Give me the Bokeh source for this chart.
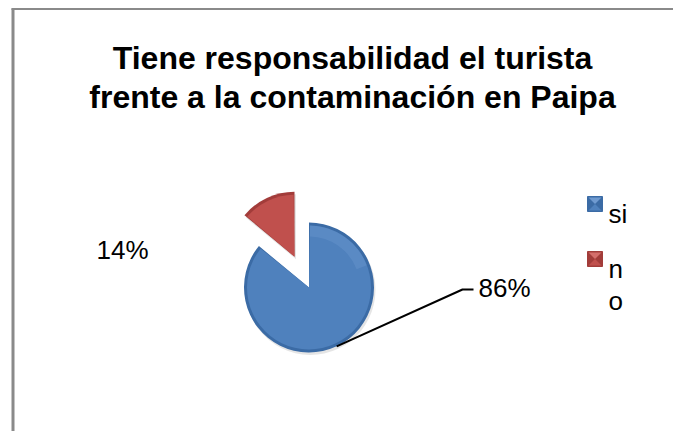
import math
from bokeh.plotting import figure
from bokeh.models import Range1d
from bokeh.core.properties import value
from bokeh.embed import file_html
from bokeh.resources import INLINE

# ---- data ----
title_lines = ["Tiene responsabilidad el turista", "frente a la contaminación en Paipa"]
categories = ["si", "no"]
percent = [86, 14]
labels = ["86%", "14%"]
colors = ["#4F81BD", "#C0504D"]
dark_colors = ["#3B6BA5", "#A23C3A"]
light_colors = ["#6F9AD0", "#D46E6B"]

FONT = "Liberation Sans"
D = math.radians

# screen-like coordinates: x = px, y = -px
p = figure(width=673, height=431, output_backend="svg", toolbar_location=None,
           x_range=Range1d(0, 673), y_range=Range1d(-431, 0),
           x_axis_location=None, y_axis_location=None, min_border=0,
           background_fill_color="white", border_fill_color="white")
p.grid.visible = False
p.outline_line_color = None

# chart border (left and top only visible)
p.line([12.5, 12.5], [-8, -431], line_color="#8A8A8A", line_width=3)
p.line([11, 673], [-8.5, -8.5], line_color="#8A8A8A", line_width=2)

# title
p.text(x=[352, 352], y=[-57, -96], text=title_lines, text_align="center",
       text_baseline="alphabetic", text_font=value(FONT), text_font_size="32px",
       text_font_style="bold", text_color="black")

# pie
cx, cy, r = 308.5, -287.0, 65.0
explode = 34.0
total = sum(percent)
start = 90.0
wedges = []
for i, v in enumerate(percent):
    sweep = v / total * 360.0
    a1 = start - sweep
    a2 = start
    mid = math.radians((a1 + a2) / 2)
    off = explode if i == 1 else 0.0
    wedges.append(dict(x=cx + off * math.cos(mid), y=cy + off * math.sin(mid),
                       a1=a1, a2=a2, mid=mid, i=i))
    start = a1

for w in wedges:
    i = w["i"]
    p.wedge(x=w["x"] + 1.5, y=w["y"] - 2.5, radius=r, start_angle=D(w["a1"]), end_angle=D(w["a2"]),
            fill_color="#000000", fill_alpha=0.10, line_color=None)
    p.wedge(x=w["x"], y=w["y"], radius=r, start_angle=D(w["a1"]), end_angle=D(w["a2"]),
            fill_color=dark_colors[i], line_color=None)
    p.wedge(x=w["x"], y=w["y"], radius=r - 3, start_angle=D(w["a1"] + 0.8), end_angle=D(w["a2"] - 0.8),
            fill_color=colors[i], line_color=None)
    lo, hi = max(w["a1"], 20) + 1, min(w["a2"], 160) - 1
    if hi > lo:
        p.annular_wedge(x=w["x"], y=w["y"], inner_radius=r - 14, outer_radius=r - 3,
                        start_angle=D(lo), end_angle=D(hi),
                        fill_color=light_colors[i], fill_alpha=0.35, line_color=None)

# leader line for the "si" slice
blue = wedges[0]
ax = blue["x"] + r * math.cos(blue["mid"])
ay = blue["y"] + r * math.sin(blue["mid"])
p.line([ax, 462, 473], [ay, -289, -289], line_color="black", line_width=2)

# data labels
p.text(x=[478, 96], y=[-287, -249], text=labels, text_align="left",
       text_baseline="alphabetic", text_font=value(FONT), text_font_size="26px",
       text_color="black")

# legend
lx = [587, 587]
ly = [-196, -251]
size = 15
for i in range(len(categories)):
    x0, y0 = lx[i], ly[i]
    p.quad(left=[x0], right=[x0 + size], top=[y0], bottom=[y0 - size],
           fill_color=dark_colors[i], line_color=dark_colors[i], line_width=1)
    p.patch([x0 + 1, x0 + size - 1, x0 + size / 2], [y0 - 1, y0 - 1, y0 - size / 2],
            fill_color=light_colors[i], line_color=None)
    p.patch([x0 + 1, x0 + size - 1, x0 + size / 2], [y0 - size + 1, y0 - size + 1, y0 - size / 2],
            fill_color=colors[i], line_color=None)

legend_text = ["si", "n", "o"]
p.text(x=[608, 608, 608], y=[-213, -268, -300], text=legend_text, text_align="left",
       text_baseline="alphabetic", text_font=value(FONT), text_font_size="26px",
       text_color="black")

open("out.html", "w").write(file_html(p, INLINE))
